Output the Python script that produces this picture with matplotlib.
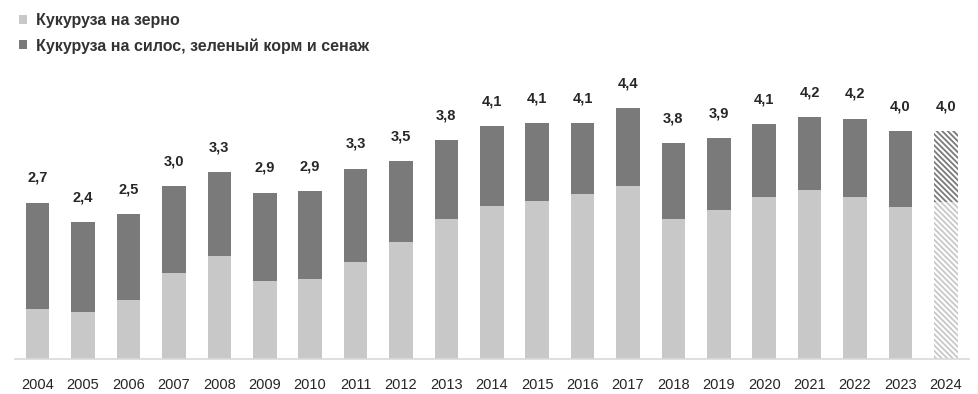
import matplotlib
matplotlib.use("Agg")
import matplotlib.pyplot as plt
import numpy as np

plt.rcParams['font.family'] = ['Liberation Sans', 'DejaVu Sans']
plt.rcParams['hatch.linewidth'] = 1.3

# --- data (млн га) ---
years = ['2004', '2005', '2006', '2007', '2008', '2009', '2010', '2011', '2012', '2013', '2014',
         '2015', '2016', '2017', '2018', '2019', '2020', '2021', '2022', '2023', '2024']
grain = [0.88, 0.83, 1.04, 1.51, 1.81, 1.37, 1.41, 1.71, 2.06, 2.45, 2.69,
         2.78, 2.90, 3.03, 2.45, 2.61, 2.85, 2.96, 2.85, 2.66, 2.75]
total = [2.74, 2.40, 2.54, 3.03, 3.28, 2.92, 2.94, 3.34, 3.47, 3.84, 4.08,
         4.14, 4.14, 4.40, 3.79, 3.87, 4.12, 4.24, 4.22, 4.00, 4.00]
total_labels = ['2,7', '2,4', '2,5', '3,0', '3,3', '2,9', '2,9', '3,3', '3,5', '3,8', '4,1',
                '4,1', '4,1', '4,4', '3,8', '3,9', '4,1', '4,2', '4,2', '4,0', '4,0']
legend_names = ['Кукуруза на зерно', 'Кукуруза на силос, зеленый корм и сенаж']

light = '#c8c8c8'
dark = '#7a7a7a'

silage = [t - g for t, g in zip(total, grain)]
x = np.arange(len(years))

fig = plt.figure(figsize=(9.79, 3.94), dpi=100)
ax = fig.add_axes([0.0153, 0.089, 0.974, 0.71])

# actual years: solid bars, last (forecast) year: hatched
n = len(years) - 1
ax.bar(x[:n], grain[:n], width=0.52, color=light, label=legend_names[0])
ax.bar(x[:n], silage[:n], width=0.52, bottom=grain[:n], color=dark, label=legend_names[1])
ax.bar(x[n], grain[n], width=0.52, color='white', edgecolor=light, hatch='\\' * 6, linewidth=0)
ax.bar(x[n], silage[n], width=0.52, bottom=grain[n], color='white', edgecolor=dark,
       hatch='\\' * 6, linewidth=0)

for xi, t, lab in zip(x, total, total_labels):
    ax.annotate(lab, (xi, t), xytext=(0, 18), textcoords='offset points',
                ha='center', va='center', fontsize=10.5, fontweight='bold', color='#262626')

ax.set_xlim(-0.5, len(years) - 0.5)
ax.set_ylim(0, 4.91)
ax.set_xticks(x)
ax.set_xticklabels(years, fontsize=10.5, color='#262626')
ax.tick_params(axis='x', length=0, pad=14)
ax.set_yticks([])
for side in ['top', 'right', 'left']:
    ax.spines[side].set_visible(False)
ax.spines['bottom'].set_color('#d9d9d9')
ax.spines['bottom'].set_linewidth(1.2)

leg = fig.legend(loc='upper left', bbox_to_anchor=(0.013, 0.982), frameon=False,
                 prop={'size': 11.5, 'weight': 'bold'}, handlelength=0.5, handleheight=0.5,
                 handletextpad=0.55, labelspacing=0.6, borderaxespad=0)
for t in leg.get_texts():
    t.set_color('#333333')

fig.savefig('out.png', dpi=100)
